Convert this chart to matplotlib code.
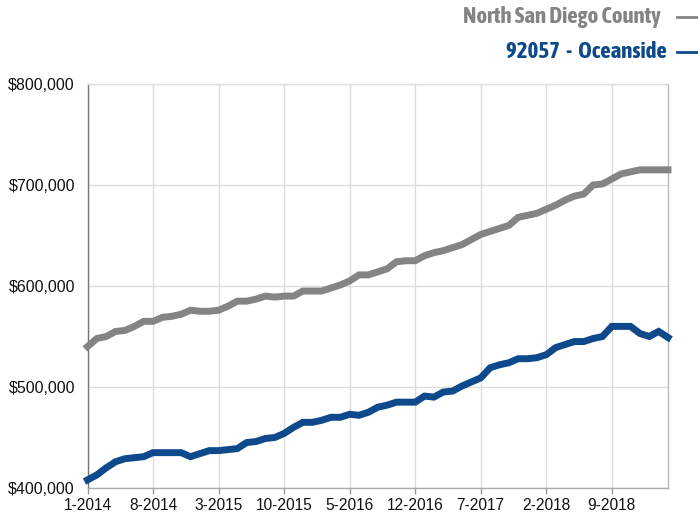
import matplotlib
matplotlib.use("Agg")
import matplotlib.pyplot as plt
from matplotlib.lines import Line2D
from matplotlib.ticker import FuncFormatter
from matplotlib.font_manager import FontProperties

months = [f"{(m % 12) + 1}-{2014 + m // 12}" for m in range(63)]
north_sd = [540, 548, 550, 555, 556, 560, 565, 565, 569, 570, 572, 576, 575, 575, 576,
            580, 585, 585, 587, 590, 589, 590, 590, 595, 595, 595, 598, 601, 605, 611,
            611, 614, 617, 624, 625, 625, 630, 633, 635, 638, 641, 646, 651, 654, 657,
            660, 668, 670, 672, 676, 680, 685, 689, 691, 700, 701, 706, 711, 713, 715,
            715, 715, 715]
oceanside = [408, 413, 420, 426, 429, 430, 431, 435, 435, 435, 435, 431, 434, 437, 437,
             438, 439, 445, 446, 449, 450, 454, 460, 465, 465, 467, 470, 470, 473, 472,
             475, 480, 482, 485, 485, 485, 491, 490, 495, 496, 501, 505, 509, 519, 522,
             524, 528, 528, 529, 532, 539, 542, 545, 545, 548, 550, 560, 560, 560, 553,
             550, 555, 549]
north_sd = [v * 1000 for v in north_sd]
oceanside = [v * 1000 for v in oceanside]
series_names = ["North San Diego County", "92057 - Oceanside"]
tick_idx = list(range(0, 63, 7))
tick_labels = [months[i] for i in tick_idx]
y_ticks = [400000, 500000, 600000, 700000, 800000]

GRAY = "#848484"
BLUE = "#0e4a8b"

plt.rcParams['font.family'] = ['Liberation Sans', 'DejaVu Sans']
fig = plt.figure(figsize=(6.98, 5.18), dpi=100)
ax = fig.add_axes([87.5 / 698, 1 - 488 / 518, (668 - 87.5) / 698, (488 - 84) / 518])

x = list(range(len(months)))
ax.plot(x, north_sd, color=GRAY, lw=5, solid_joinstyle='miter', zorder=3, clip_on=False)
ax.plot(x, oceanside, color=BLUE, lw=5, solid_joinstyle='miter', zorder=3, clip_on=False)

ax.set_xlim(0, 62)
ax.set_ylim(400000, 800000)
ax.set_xticks(tick_idx)
ax.set_xticklabels(tick_labels)
ax.set_yticks(y_ticks)
ax.yaxis.set_major_formatter(FuncFormatter(lambda v, p: f"${int(v):,}"))
ax.grid(True, color="#dcdcdc", lw=1)
ax.set_axisbelow(True)
ax.tick_params(axis='y', length=0, labelsize=11.5, pad=9, colors='#111111')
ax.tick_params(axis='x', length=4, width=1, color='#999999', labelsize=11.2, pad=3, labelcolor='#111111')
ax.spines['left'].set_color('#777777')
ax.spines['bottom'].set_color('#aaaaaa')
ax.spines['top'].set_color('#dcdcdc')
ax.spines['right'].set_color('#bbbbbb')
for s in ax.spines.values():
    s.set_linewidth(1)

legend_fp = FontProperties(family=['Asap Condensed', 'Liberation Sans', 'DejaVu Sans'],
                           weight='bold', size=16.5)

fig.text(661 / 698, 1 - 17 / 518, series_names[0], ha='right', va='center', color=GRAY,
         fontproperties=legend_fp)
fig.text(667 / 698, 1 - 52 / 518, series_names[1].replace(" - ", "  -  "), ha='right', va='center',
         color=BLUE, fontproperties=legend_fp)
fig.add_artist(Line2D([677 / 698, 1.0], [1 - 17 / 518] * 2, color=GRAY, lw=2, transform=fig.transFigure))
fig.add_artist(Line2D([677 / 698, 1.0], [1 - 52 / 518] * 2, color=BLUE, lw=2, transform=fig.transFigure))

fig.savefig("out.png", dpi=100)
